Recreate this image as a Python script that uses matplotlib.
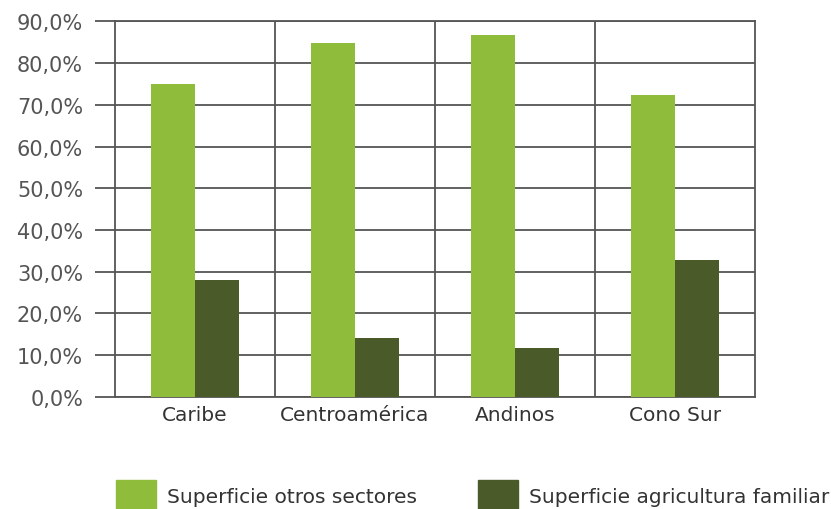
import numpy as np
import matplotlib
matplotlib.use("Agg")
import matplotlib.pyplot as plt
from matplotlib.patches import Patch

regiones = ["Caribe", "Centroamérica", "Andinos", "Cono Sur"]
otros_sectores = [74.9, 84.9, 86.8, 72.4]
agricultura_familiar = [27.9, 14.1, 11.6, 32.7]
y_ticks = [0, 10, 20, 30, 40, 50, 60, 70, 80, 90]
y_labels = ["0,0%", "10,0%", "20,0%", "30,0%", "40,0%", "50,0%",
            "60,0%", "70,0%", "80,0%", "90,0%"]

verde = "#8fbc3b"
oscuro = "#4a5a28"
linea = "#555555"

fig = plt.figure(figsize=(8.31, 5.10), dpi=100)
ax = fig.add_axes([0.1384, 0.2202, 0.7701, 0.7357])

x = np.arange(len(regiones))
w = 0.275
ax.bar(x - w / 2, otros_sectores, w, color=verde, zorder=3)
ax.bar(x + w / 2, agricultura_familiar, w, color=oscuro, zorder=3)

ax.set_xlim(-0.5, len(regiones) - 0.5)
ax.set_ylim(0, 90)

# lineas de la cuadricula
for t in y_ticks:
    ax.axhline(t, color=linea, lw=1.3, zorder=1)
for b in np.arange(0.5, len(regiones) - 1, 1.0):
    ax.axvline(b, color=linea, lw=1.3, zorder=1)
for s in ax.spines.values():
    s.set_color(linea)
    s.set_linewidth(1.3)

ax.set_yticks(y_ticks)
ax.set_yticklabels(y_labels, fontsize=15, color="#555555")
ax.tick_params(axis="y", length=14.4, width=1.3, color=linea, pad=8.6)
ax.set_xticks(x)
ax.set_xticklabels(regiones, fontsize=14.5, color="#333333")
ax.tick_params(axis="x", length=0, pad=6)

handles = [Patch(color=verde, label="Superficie otros sectores"),
           Patch(color=oscuro, label="Superficie agricultura familiar")]
fig.legend(handles=handles, loc="center left", bbox_to_anchor=(0.1396, 0.027),
           ncol=2, frameon=False, fontsize=14.5, handlelength=2.0,
           handleheight=2.0, handletextpad=0.55, columnspacing=3.0,
           borderpad=0, borderaxespad=0, labelcolor="#333333")

plt.savefig("out.png", dpi=100)
